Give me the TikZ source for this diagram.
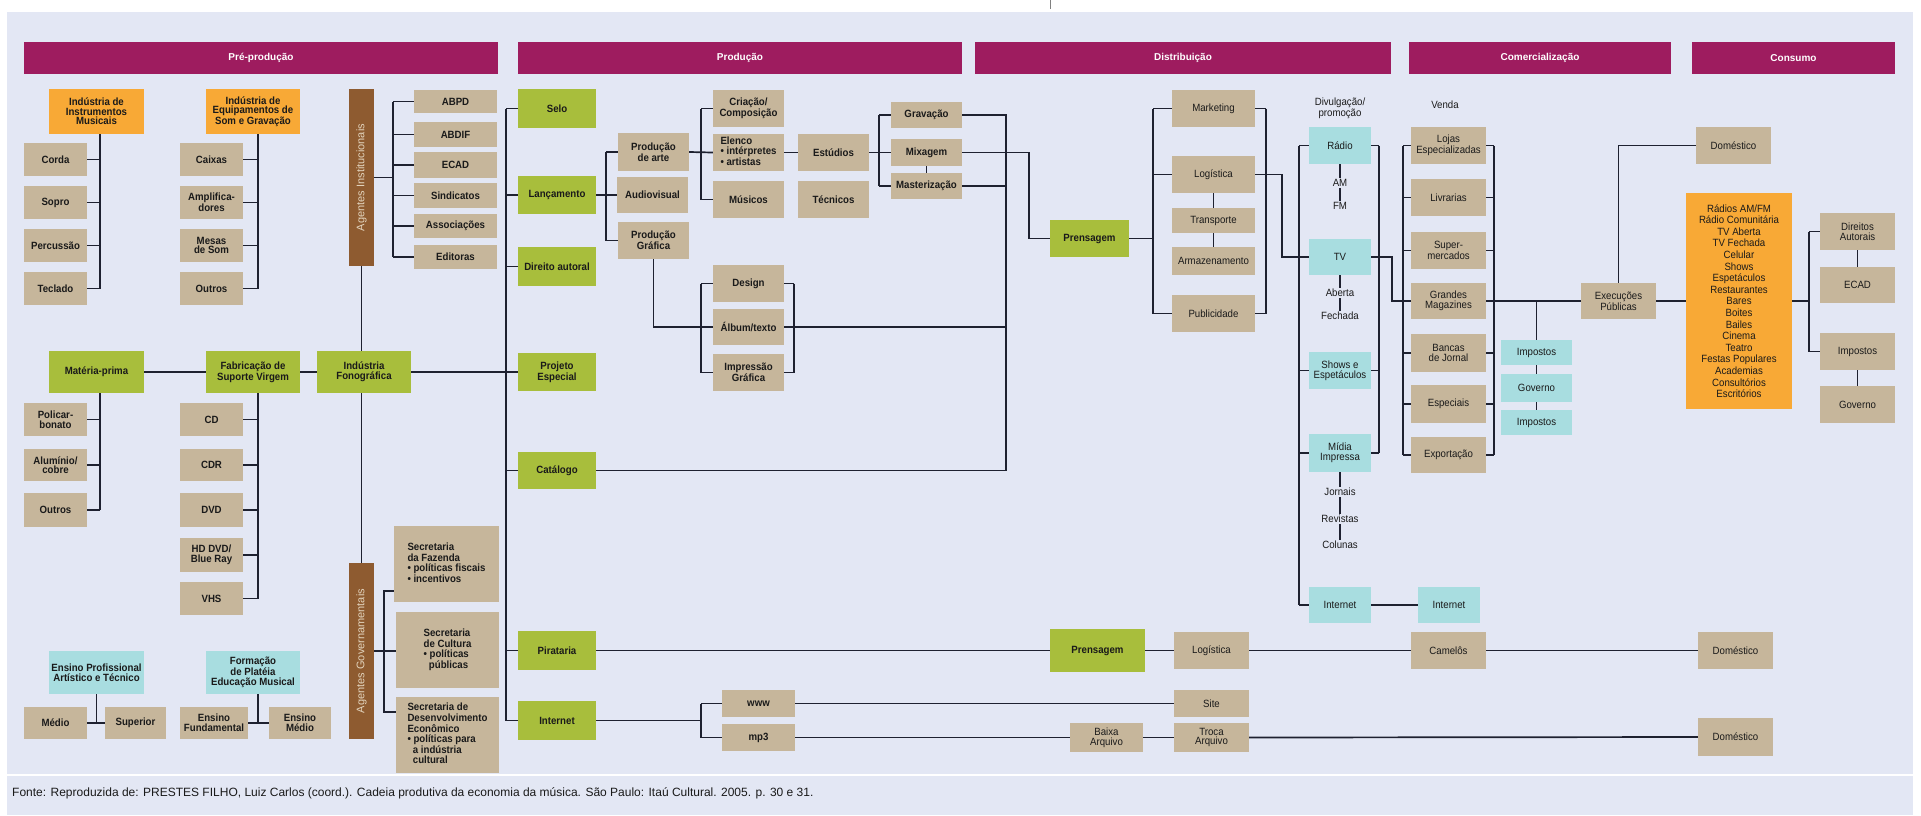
\documentclass[tikz,border=0pt]{standalone}
\usepackage{fontspec}
\setmainfont{Liberation Sans}
\newfontfamily\cnd[FakeStretch=0.92]{Liberation Sans}
\usetikzlibrary{calc}

\definecolor{bgc}{HTML}{E3E7F4}
\definecolor{hdr}{HTML}{9E1C5F}
\definecolor{tanc}{HTML}{C6B69B}
\definecolor{grnc}{HTML}{A8BE3C}
\definecolor{orgc}{HTML}{F8A936}
\definecolor{cync}{HTML}{A8DDE0}
\definecolor{brnc}{HTML}{8E5B30}
\definecolor{lnc}{HTML}{1E2130}
\definecolor{txtc}{HTML}{1A1A1A}
\definecolor{agtxt}{HTML}{E2D3BC}

% box placed by its corners (x1,y1) (x2,y2)
\newcommand\placebox[7]{%
  \pgfmathsetmacro\pbw{#5-#3}%
  \pgfmathsetmacro\pbh{#6-#4}%
  \pgfmathsetmacro\pbx{(#3+#5)/2}%
  \pgfmathsetmacro\pby{(#4+#6)/2}%
  \node[#2, minimum width=\pbw pt, minimum height=\pbh pt] (#1) at (\pbx,\pby) {#7};}

\tikzset{
  box/.style={rectangle, inner sep=0pt, align=center, text=txtc,
    font=\cnd\bfseries\fontsize{10.5}{9.6}\selectfont},
  lbox/.style={box, font=\cnd\fontsize{10.5}{9.6}\selectfont},
  tanb/.style={box, fill=tanc},
  tanl/.style={lbox, fill=tanc},
  grnb/.style={box, fill=grnc},
  orgb/.style={box, fill=orgc},
  cynb/.style={box, fill=cync},
  cynl/.style={lbox, fill=cync},
  brnb/.style={box, fill=brnc},
  hdrb/.style={rectangle, inner sep=0pt, fill=hdr, text=white,
    font=\bfseries\fontsize{10}{10}\selectfont},
  agtext/.style={rotate=90, text=agtxt, font=\fontsize{11}{11}\selectfont},
  lab/.style={inner sep=1pt, align=center, text=txtc,
    font=\cnd\fontsize{10.5}{9.6}\selectfont},
  ln/.style={draw=lnc, line width=1.7pt},
}

\begin{document}
\begin{tikzpicture}[x=1pt, y=-1pt]
\useasboundingbox (0,0) rectangle (1921,815);
\fill[white] (0,0) rectangle (1921,815);
\fill[bgc] (7,12) rectangle (1913,815);
\draw[white, line width=2pt] (7,775) -- (1913,775);
\draw[gray, line width=1pt] (1050,0) -- (1050,9);

% stage headers
\placebox{h1}{hdrb}{24}{42}{498}{74}{Pré-produção}
\placebox{h2}{hdrb}{518}{42}{962}{74}{Produção}
\placebox{h3}{hdrb}{975}{42}{1391}{74}{Distribuição}
\placebox{h4}{hdrb}{1409}{42}{1671}{74}{Comercialização}
\placebox{h5}{hdrb}{1692}{42}{1895}{74}{Consumo}

% ---------- pre-production ----------
\placebox{instr}{orgb}{49}{89}{144}{134}{Indústria de\\Instrumentos\\Musicais}
\placebox{equip}{orgb}{206}{89}{300}{134}{Indústria de\\Equipamentos de\\Som e Gravação}
\placebox{agInst}{brnb}{349}{89}{374}{266}{}
\node[agtext] at (agInst.center) {Agentes Institucionais};
\placebox{abpd}{tanb}{414}{90}{497}{113}{ABPD}
\placebox{abdif}{tanb}{414}{122}{497}{147}{ABDIF}
\placebox{ecadA}{tanb}{414}{152}{497}{178}{ECAD}
\placebox{sind}{tanb}{414}{183}{497}{208}{Sindicatos}
\placebox{assoc}{tanb}{414}{214}{497}{238}{Associações}
\placebox{edit}{tanb}{414}{245}{497}{269}{Editoras}

\placebox{corda}{tanb}{24}{143}{87}{176}{Corda}
\placebox{sopro}{tanb}{24}{186}{87}{219}{Sopro}
\placebox{perc}{tanb}{24}{229}{87}{262}{Percussão}
\placebox{tecl}{tanb}{24}{272}{87}{305}{Teclado}
\placebox{caixas}{tanb}{180}{143}{243}{176}{Caixas}
\placebox{ampl}{tanb}{180}{186}{243}{219}{Amplifica-\\dores}
\placebox{mesas}{tanb}{180}{229}{243}{262}{Mesas\\de Som}
\placebox{outrosA}{tanb}{180}{272}{243}{305}{Outros}

\placebox{matp}{grnb}{49}{351}{144}{393}{Matéria-prima}
\placebox{fab}{grnb}{206}{351}{300}{393}{Fabricação de\\Suporte Virgem}
\placebox{fono}{grnb}{317}{351}{411}{393}{Indústria\\Fonográfica}
\placebox{polic}{tanb}{24}{403}{87}{436}{Policar-\\bonato}
\placebox{alum}{tanb}{24}{449}{87}{481}{Alumínio/\\cobre}
\placebox{outrosB}{tanb}{24}{493}{87}{527}{Outros}
\placebox{cd}{tanb}{180}{403}{243}{436}{CD}
\placebox{cdr}{tanb}{180}{449}{243}{481}{CDR}
\placebox{dvd}{tanb}{180}{493}{243}{527}{DVD}
\placebox{hddvd}{tanb}{180}{538}{243}{572}{HD DVD/\\Blue Ray}
\placebox{vhs}{tanb}{180}{582}{243}{615}{VHS}

\placebox{agGov}{brnb}{349}{563}{374}{739}{}
\node[agtext] at (agGov.center) {Agentes Governamentais};
\placebox{faz}{tanb}{394}{526}{499}{602}{\begin{tabular}{@{}l@{}}Secretaria\\da Fazenda\\• políticas fiscais\\• incentivos\end{tabular}}
\placebox{cult}{tanb}{396}{612}{499}{688}{\begin{tabular}{@{}l@{}}Secretaria\\de Cultura\\• políticas\\\ \ públicas\end{tabular}}
\placebox{desenv}{tanb}{396}{697}{499}{773}{\begin{tabular}{@{}l@{}}Secretaria de\\Desenvolvimento\\Econômico\\• políticas para\\\ \ a indústria\\\ \ cultural\end{tabular}}

\placebox{ensProf}{cynb}{49}{651}{144}{694}{Ensino Profissional\\Artístico e Técnico}
\placebox{form}{cynb}{206}{651}{300}{694}{Formação\\de Platéia\\Educação Musical}
\placebox{medio}{tanb}{24}{707}{87}{739}{Médio}
\placebox{sup}{tanb}{105}{707}{166}{739}{Superior}
\placebox{fund}{tanb}{180}{707}{248}{739}{Ensino\\Fundamental}
\placebox{emedio}{tanb}{269}{707}{331}{739}{Ensino\\Médio}

% ---------- production ----------
\placebox{selo}{grnb}{518}{89}{596}{128}{Selo}
\placebox{lanc}{grnb}{518}{176}{596}{214}{Lançamento}
\placebox{dir}{grnb}{518}{247}{596}{286}{Direito autoral}
\placebox{proj}{grnb}{518}{353}{596}{391}{Projeto\\Especial}
\placebox{catal}{grnb}{518}{452}{596}{489}{Catálogo}
\placebox{pirat}{grnb}{518}{631}{596}{670}{Pirataria}
\placebox{inetA}{grnb}{518}{701}{596}{740}{Internet}

\placebox{parte}{tanb}{618}{133}{689}{171}{Produção\\de arte}
\placebox{audio}{tanb}{617}{177}{688}{213}{Audiovisual}
\placebox{pgraf}{tanb}{618}{222}{689}{259}{Produção\\Gráfica}
\placebox{criac}{tanb}{713}{90}{784}{127}{Criação/\\Composição}
\placebox{elenco}{tanb}{713}{134}{784}{171}{\begin{tabular}{@{}l@{}}Elenco\\• intérpretes\\• artistas\end{tabular}}
\placebox{music}{tanb}{713}{181}{784}{218}{Músicos}
\placebox{estud}{tanb}{798}{134}{869}{171}{Estúdios}
\placebox{tecn}{tanb}{798}{181}{869}{218}{Técnicos}
\placebox{grav}{tanb}{891}{102}{962}{128}{Gravação}
\placebox{mix}{tanb}{891}{139}{962}{166}{Mixagem}
\placebox{mast}{tanb}{891}{173}{962}{199}{Masterização}
\placebox{design}{tanb}{713}{265}{784}{302}{Design}
\placebox{album}{tanb}{713}{309}{784}{345}{Álbum/texto}
\placebox{impr}{tanb}{713}{354}{784}{391}{Impressão\\Gráfica}
\placebox{www}{tanb}{722}{690}{795}{717}{www}
\placebox{mpthree}{tanb}{722}{724}{795}{751}{mp3}

% ---------- distribution ----------
\placebox{prenA}{grnb}{1050}{220}{1129}{257}{Prensagem}
\placebox{mkt}{tanl}{1172}{90}{1255}{127}{Marketing}
\placebox{logA}{tanl}{1172}{156}{1255}{193}{Logística}
\placebox{transp}{tanl}{1172}{208}{1255}{233}{Transporte}
\placebox{armaz}{tanl}{1172}{247}{1255}{275}{Armazenamento}
\placebox{publ}{tanl}{1172}{295}{1255}{332}{Publicidade}

\node[lab] (divl) at (1340,108) {Divulgação/\\promoção};
\placebox{radio}{cynl}{1309}{127}{1371}{164}{Rádio}
\node[lab] (am) at (1340,183) {AM};
\node[lab] (fm) at (1340,206) {FM};
\placebox{tv}{cynl}{1309}{239}{1371}{275}{TV}
\node[lab] (aberta) at (1340,293) {Aberta};
\node[lab] (fechada) at (1340,316) {Fechada};
\placebox{shows}{cynl}{1309}{352}{1371}{389}{Shows e\\Espetáculos}
\placebox{midia}{cynl}{1309}{434}{1371}{472}{Mídia\\Impressa}
\node[lab] (jorn) at (1340,492) {Jornais};
\node[lab] (revi) at (1340,519) {Revistas};
\node[lab] (colu) at (1340,545) {Colunas};
\placebox{inetB}{cynl}{1309}{587}{1371}{623}{Internet}
\placebox{inetC}{cynl}{1418}{587}{1480}{623}{Internet}

\placebox{prenB}{grnb}{1050}{629}{1145}{672}{Prensagem}
\placebox{logB}{tanl}{1174}{632}{1249}{669}{Logística}
\placebox{site}{tanl}{1174}{690}{1249}{717}{Site}
\placebox{baixa}{tanl}{1070}{723}{1143}{752}{Baixa\\Arquivo}
\placebox{troca}{tanl}{1174}{723}{1249}{752}{Troca\\Arquivo}

% ---------- commercialisation ----------
\node[lab] (venda) at (1445,105) {Venda};
\placebox{lojas}{tanl}{1411}{127}{1486}{164}{Lojas\\Especializadas}
\placebox{livr}{tanl}{1411}{179}{1486}{216}{Livrarias}
\placebox{superm}{tanl}{1411}{232}{1486}{269}{Super-\\mercados}
\placebox{grandes}{tanl}{1411}{283}{1486}{319}{Grandes\\Magazines}
\placebox{bancas}{tanl}{1411}{334}{1486}{372}{Bancas\\de Jornal}
\placebox{espec}{tanl}{1411}{385}{1486}{423}{Especiais}
\placebox{export}{tanl}{1411}{437}{1486}{473}{Exportação}
\placebox{impA}{cynl}{1501}{340}{1572}{365}{Impostos}
\placebox{govA}{cynl}{1501}{374}{1572}{402}{Governo}
\placebox{impB}{cynl}{1501}{410}{1572}{435}{Impostos}
\placebox{exec}{tanl}{1581}{283}{1656}{319}{Execuções\\Públicas}
\placebox{camel}{tanl}{1411}{632}{1486}{669}{Camelôs}

% ---------- consumption ----------
\placebox{domA}{tanl}{1696}{127}{1771}{164}{Doméstico}
\placebox{cons}{orgb}{1686}{193}{1792}{409}{}
\node[lab, font=\cnd\fontsize{10.5}{11.6}\selectfont] at (cons.center) {Rádios AM/FM\\Rádio Comunitária\\TV Aberta\\TV Fechada\\Celular\\Shows\\Espetáculos\\Restaurantes\\Bares\\Boites\\Bailes\\Cinema\\Teatro\\Festas Populares\\Academias\\Consultórios\\Escritórios};
\placebox{dirA}{tanl}{1820}{213}{1895}{250}{Direitos\\Autorais}
\placebox{ecadB}{tanl}{1820}{267}{1895}{303}{ECAD}
\placebox{impC}{tanl}{1820}{333}{1895}{370}{Impostos}
\placebox{govB}{tanl}{1820}{386}{1895}{423}{Governo}
\placebox{domB}{tanl}{1698}{632}{1773}{669}{Doméstico}
\placebox{domC}{tanl}{1698}{718}{1773}{756}{Doméstico}

% spine positions of the brackets
\coordinate (spI) at (100,0);
\coordinate (spE) at (258,0);
\coordinate (spA) at (393,0);
\coordinate (spG) at (384,0);
\coordinate (spP) at (506,0);
\coordinate (spL) at (606,0);
\coordinate (spC) at (701,0);
\coordinate (spR) at (794,0);
\coordinate (spS) at (879,0);
\coordinate (spD) at (1006,0);
\coordinate (spM) at (1029,0);
\coordinate (spK) at (1153,0);
\coordinate (spKr) at (1266,0);
\coordinate (spLg) at (1282,0);
\coordinate (spV) at (1299,0);
\coordinate (spVr) at (1379,0);
\coordinate (spT) at (1392,0);
\coordinate (spW) at (1403,0);
\coordinate (spWr) at (1494,0);
\coordinate (spX) at (1809,0);
\coordinate (gTop) at (0,591);
\coordinate (gBot) at (0,712);

% ---------- connectors: pre-production ----------
\draw[ln] (instr.south -| spI) -- (tecl.east -| spI);
\foreach \n in {corda,sopro,perc,tecl} \draw[ln] (\n.east) -- (\n.east -| spI);
\draw[ln] (equip.south -| spE) -- (outrosA.east -| spE);
\foreach \n in {caixas,ampl,mesas,outrosA} \draw[ln] (\n.east) -- (\n.east -| spE);
\draw[ln] (abpd.west -| spA) -- (edit.west -| spA);
\foreach \n in {abpd,abdif,ecadA,sind,assoc,edit} \draw[ln] (\n.west) -- (\n.west -| spA);
\draw[ln] (agInst.east) -- (agInst.east -| spA);
\draw[ln] (matp.south -| spI) -- (outrosB.east -| spI);
\foreach \n in {polic,alum,outrosB} \draw[ln] (\n.east) -- (\n.east -| spI);
\draw[ln] (fab.south -| spE) -- (vhs.east -| spE);
\foreach \n in {cd,cdr,dvd,hddvd,vhs} \draw[ln] (\n.east) -- (\n.east -| spE);
\draw[ln] (matp.east) -- (fab.west);
\draw[ln] (fab.east) -- (fono.west);
\draw[ln] (fono.east) -- (proj.west);
\draw[ln] (agInst.south) -- (agInst.south |- fono.north);
\draw[ln] (agInst.south |- fono.south) -- (agGov.north);
\draw[ln] (faz.west |- gTop) -| (spG |- gBot) -- (desenv.west |- gBot);
\draw[ln] (agGov.east) -- (cult.west |- agGov.east);
\draw[ln] (ensProf.south) -- (ensProf.south |- medio.east);
\draw[ln] (medio.east) -- (sup.west);
\draw[ln] (form.south -| spE) -- (spE |- fund.east);
\draw[ln] (fund.east) -- (emedio.west);

% ---------- connectors: production ----------
\draw[ln] (selo.west -| spP) -- (inetA.west -| spP);
\foreach \n in {selo,lanc,dir,catal,pirat,inetA} \draw[ln] (\n.west) -- (\n.west -| spP);
\draw[ln] (lanc.east) -- (lanc.east -| spL);
\draw[ln] (parte.west -| spL) -- (pgraf.west -| spL);
\foreach \n in {parte,audio,pgraf} \draw[ln] (\n.west) -- (\n.west -| spL);
\draw[ln] (parte.east) -- (elenco.west);
\draw[ln] (criac.west -| spC) -- (music.west -| spC);
\foreach \n in {criac,music} \draw[ln] (\n.west) -- (\n.west -| spC);
\draw[ln] (elenco.east) -- (estud.west);
\draw[ln] (estud.east) -- (estud.east -| spS);
\draw[ln] (grav.west -| spS) -- (mast.west -| spS);
\foreach \n in {grav,mix,mast} \draw[ln] (\n.west) -- (\n.west -| spS);
\draw[ln] (mix.south) -- (mast.north);
\draw[ln] (grav.east) -| (spD |- catal.east);
\draw[ln] (catal.east) -- (catal.east -| spD);
\draw[ln] (mast.east) -- (mast.east -| spD);
\draw[ln] (mix.east) -| (spM |- prenA.west) -- (prenA.west);
\draw[ln] (pgraf.south) |- (album.west);
\draw[ln] (design.west -| spC) -- (impr.west -| spC);
\foreach \n in {design,impr} \draw[ln] (\n.west) -- (\n.west -| spC);
\draw[ln] (design.east -| spR) -- (impr.east -| spR);
\foreach \n in {design,impr} \draw[ln] (\n.east) -- (\n.east -| spR);
\draw[ln] (album.east) -- (album.east -| spD);
\draw[ln] (inetA.east) -- (inetA.east -| spC);
\draw[ln] (www.west -| spC) -- (mpthree.west -| spC);
\foreach \n in {www,mpthree} \draw[ln] (\n.west) -- (\n.west -| spC);

% ---------- connectors: distribution ----------
\draw[ln] (prenA.east) -- (prenA.east -| spK);
\draw[ln] (mkt.west -| spK) -- (publ.west -| spK);
\foreach \n in {mkt,logA,publ} \draw[ln] (\n.west) -- (\n.west -| spK);
\draw[ln] (mkt.east -| spKr) -- (publ.east -| spKr);
\foreach \n in {mkt,publ} \draw[ln] (\n.east) -- (\n.east -| spKr);
\draw[ln] (logA.south) -- (transp.north);
\draw[ln] (transp.south) -- (armaz.north);
\draw[ln] (logA.east) -| (spLg |- tv.west) -- (tv.west);
\draw[ln] (radio.west -| spV) -- (inetB.west -| spV);
\foreach \n in {radio,shows,midia,inetB} \draw[ln] (\n.west) -- (\n.west -| spV);
\draw[ln] (radio.east -| spVr) -- (midia.east -| spVr);
\foreach \n in {radio,shows,midia} \draw[ln] (\n.east) -- (\n.east -| spVr);
\draw[ln] (radio.south) -- (am.north);
\draw[ln] (am.south) -- (fm.north);
\draw[ln] (tv.south) -- (aberta.north);
\draw[ln] (aberta.south) -- (fechada.north);
\draw[ln] (midia.south) -- (jorn.north);
\draw[ln] (jorn.south) -- (revi.north);
\draw[ln] (revi.south) -- (colu.north);
\draw[ln] (inetB.east) -- (inetC.west);
\draw[ln] (tv.east) -| (spT |- grandes.west) -- (grandes.west);

% ---------- connectors: commercialisation and consumption ----------
\draw[ln] (lojas.west -| spW) -- (export.west -| spW);
\draw[ln] (lojas.east -| spWr) -- (export.east -| spWr);
\foreach \n in {lojas,livr,superm,grandes,bancas,espec,export} {
  \draw[ln] (\n.west) -- (\n.west -| spW);
  \draw[ln] (\n.east) -- (\n.east -| spWr);
}
\draw[ln] (grandes.east) -- (exec.west);
\draw[ln] (impA.north) -- (impA.north |- grandes.east);
\draw[ln] (impA.south) -- (govA.north);
\draw[ln] (govA.south) -- (impB.north);
\draw[ln] (exec.north) |- (domA.west);
\draw[ln] (exec.east) -- (cons.west);
\draw[ln] (cons.east) -- (cons.east -| spX);
\draw[ln] (dirA.west -| spX) -- (impC.west -| spX);
\foreach \n in {dirA,impC} \draw[ln] (\n.west) -- (\n.west -| spX);
\draw[ln] (dirA.south) -- (ecadB.north);
\draw[ln] (impC.south) -- (govB.north);

% ---------- piracy and internet rows ----------
\draw[ln] (pirat.east) -- (prenB.west);
\draw[ln] (prenB.east) -- (logB.west);
\draw[ln] (logB.east) -- (camel.west);
\draw[ln] (camel.east) -- (domB.west);
\draw[ln] (www.east) -- (site.west);
\draw[ln] (mpthree.east) -- (baixa.west);
\draw[ln] (baixa.east) -- (troca.west);
\draw[ln] (troca.east) -- (domC.west);

% source note
\node[anchor=west, inner sep=0pt, text=txtc, font=\fontsize{12}{12}\selectfont] (fonte) at (12,793)
  {Fonte: Reproduzida de: PRESTES FILHO, Luiz Carlos (coord.). Cadeia produtiva da economia da música. São Paulo: Itaú Cultural. 2005. p. 30 e 31.};
\end{tikzpicture}
\end{document}
